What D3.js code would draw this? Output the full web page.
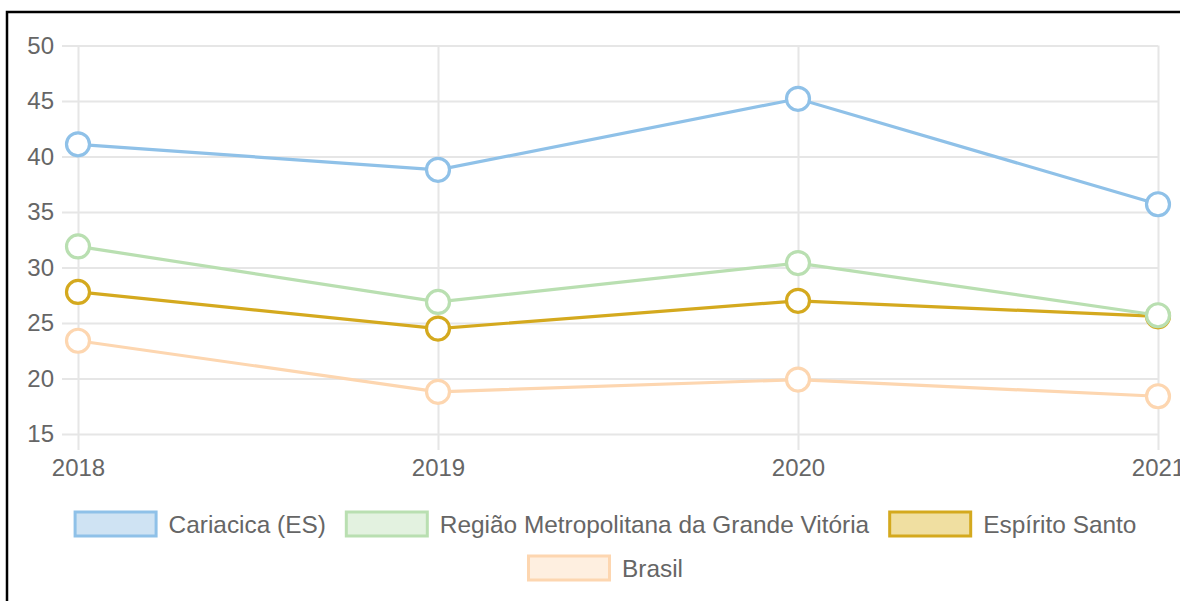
<!DOCTYPE html>
<html>
<head>
<meta charset="utf-8">
<script src="https://cdn.jsdelivr.net/npm/d3@7"></script>
<style>
  html, body { margin: 0; padding: 0; background: #fff; }
  svg { display: block; font-family: "Liberation Sans", Arial, Helvetica, sans-serif; }
</style>
</head>
<body>
<div id="chart"></div>
<script>
const years = ['2018', '2019', '2020', '2021'];
const yTicks = [15, 20, 25, 30, 35, 40, 45, 50];

const seriesNames = ['Cariacica (ES)', 'Região Metropolitana da Grande Vitória', 'Espírito Santo', 'Brasil'];
const cariacica = [41.1, 38.8, 45.2, 35.7];
const rmgv = [31.9, 26.9, 30.4, 25.7];
const espiritoSanto = [27.8, 24.5, 27.0, 25.6];
const brasil = [23.4, 18.8, 19.9, 18.4];

const lineColors = ['#8fc1e8', '#b9dfb1', '#d4a91e', '#fdd6b0'];
const fillColors = ['#cfe3f3', '#e3f2e0', '#f0dfa1', '#feefe0'];

const width = 1180, height = 601;
const margin = {top: 45.5, left: 78, right: 22, bottom: 167};
const frame = {x: 7, y: 12, w: 1196};

const svg = d3.select('#chart').append('svg')
  .attr('width', width)
  .attr('height', height);

svg.append('rect')
  .attr('x', frame.x).attr('y', frame.y)
  .attr('width', frame.w).attr('height', 640)
  .attr('fill', '#fff')
  .attr('stroke', '#000')
  .attr('stroke-width', 2.5);

const x = d3.scalePoint()
  .domain(years)
  .range([margin.left, width - margin.right]);
const y = d3.scaleLinear()
  .domain([15, 50])
  .range([height - margin.bottom, margin.top]);

const plotBottom = y(15);
const tickLen = 16;

//
// Axes + grid
//
const yAxis = svg.append('g')
  .attr('transform', `translate(${margin.left - tickLen},0)`)
  .call(d3.axisLeft(y).tickValues(yTicks)
    .tickSizeInner(-(x.range()[1] - margin.left + tickLen))
    .tickSizeOuter(0)
    .tickPadding(8));

const xAxis = svg.append('g')
  .attr('transform', `translate(0,${plotBottom + tickLen})`)
  .call(d3.axisBottom(x)
    .tickSizeInner(-(plotBottom + tickLen - margin.top))
    .tickSizeOuter(0)
    .tickPadding(9));

[yAxis, xAxis].forEach(ax => {
  ax.select('.domain').remove();
  ax.selectAll('.tick line')
    .attr('stroke', '#e6e6e6')
    .attr('stroke-width', 2);
  ax.selectAll('.tick text')
    .attr('fill', '#666')
    .style('font-size', '24px');
});

//
// Lines
//
const datasets = [cariacica, rmgv, espiritoSanto, brasil].map((values, i) => ({
  name: seriesNames[i],
  values,
  line: lineColors[i],
  fill: fillColors[i]
}));

const line = d3.line()
  .x((d, i) => x(years[i]))
  .y(d => y(d));

// first dataset drawn on top
const drawOrder = datasets.slice().reverse();

const seriesG = svg.selectAll('.series')
  .data(drawOrder)
  .enter().append('g')
  .attr('class', 'series');

seriesG.append('path')
  .attr('d', d => line(d.values))
  .attr('fill', 'none')
  .attr('stroke', d => d.line)
  .attr('stroke-width', 3.2);

seriesG.selectAll('circle')
  .data(d => d.values.map((v, i) => ({v, i, color: d.line})))
  .enter().append('circle')
  .attr('cx', d => x(years[d.i]))
  .attr('cy', d => y(d.v))
  .attr('r', 11.5)
  .attr('fill', '#fff')
  .attr('stroke', d => d.color)
  .attr('stroke-width', 3.2);

//
// Legend
//
const boxW = 84, boxH = 27, boxGap = 11, itemGap = 19, rowH = 44;
const legendCenter = frame.x + frame.w / 2;
const legendMaxW = frame.w - 30;
const legendTop = 510.5;

const legend = svg.append('g').attr('class', 'legend');
const items = legend.selectAll('.legend-item')
  .data(datasets)
  .enter().append('g')
  .attr('class', 'legend-item');

items.append('rect')
  .attr('width', boxW - 3)
  .attr('height', boxH - 3)
  .attr('x', 1.5)
  .attr('y', 1.5)
  .attr('fill', d => d.fill)
  .attr('stroke', d => d.line)
  .attr('stroke-width', 3);

items.append('text')
  .attr('x', boxW + boxGap)
  .attr('y', boxH / 2)
  .attr('dy', '0.35em')
  .attr('fill', '#666')
  .style('font-size', '24.4px')
  .text(d => d.name);

// wrap into rows
const rows = [[]];
let rowW = 0;
items.each(function() {
  const w = boxW + boxGap + d3.select(this).select('text').node().getComputedTextLength();
  const add = rows[rows.length - 1].length ? itemGap + w : w;
  if (rowW + add > legendMaxW && rows[rows.length - 1].length) {
    rows.push([{node: this, w}]);
    rowW = w;
  } else {
    rows[rows.length - 1].push({node: this, w});
    rowW += add;
  }
});

rows.forEach((row, r) => {
  const total = d3.sum(row, d => d.w) + itemGap * (row.length - 1);
  let cx = legendCenter - total / 2;
  row.forEach(it => {
    d3.select(it.node).attr('transform', `translate(${cx},${legendTop + r * rowH})`);
    cx += it.w + itemGap;
  });
});
</script>
</body>
</html>
